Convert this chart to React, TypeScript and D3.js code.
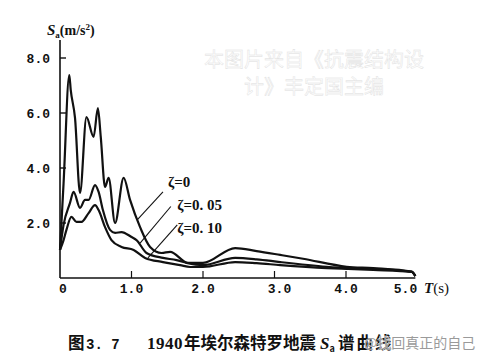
import * as d3 from "d3";
import { useEffect, useRef } from "react";

const W = 480;
const H = 364;

// period T (s) and spectral acceleration Sa (m/s²)
const T_Z0 = [0, 0.05, 0.13, 0.15, 0.21, 0.28, 0.37, 0.47, 0.53, 0.57, 0.63, 0.68, 0.77, 0.89, 0.98, 1.12, 1.26, 1.42, 1.54, 1.79, 2.0, 2.45, 2.75, 3.08, 3.4, 4.01, 4.38, 4.92, 4.97];
const S_Z0 = [1.02, 3.45, 7.38, 6.84, 5.82, 3.09, 5.85, 5.13, 6.18, 5.13, 3.31, 3.64, 2.0, 3.64, 2.84, 1.85, 1.13, 0.91, 0.95, 0.55, 0.55, 1.09, 0.98, 0.84, 0.7, 0.41, 0.36, 0.23, 0.07];

const T_Z05 = [0, 0.05, 0.14, 0.19, 0.28, 0.35, 0.4, 0.49, 0.54, 0.6, 0.7, 0.77, 0.86, 1.0, 1.07, 1.21, 1.44, 1.63, 1.77, 2.0, 2.45, 2.75, 3.08, 3.73, 4.01, 4.38, 4.92, 4.97];
const S_Z05 = [1.02, 1.93, 2.73, 3.13, 2.55, 2.84, 2.84, 3.38, 3.13, 2.47, 1.75, 1.64, 1.67, 1.49, 1.38, 0.91, 0.73, 0.65, 0.55, 0.47, 0.73, 0.68, 0.58, 0.41, 0.36, 0.33, 0.22, 0.07];

const T_Z10 = [0, 0.05, 0.09, 0.16, 0.23, 0.3, 0.4, 0.49, 0.54, 0.63, 0.72, 0.86, 1.03, 1.19, 1.44, 1.68, 1.82, 2.0, 2.45, 2.75, 3.08, 3.73, 4.01, 4.38, 4.92, 4.97];
const S_Z10 = [1.02, 1.38, 1.75, 2.22, 2.04, 2.04, 2.36, 2.65, 2.47, 1.85, 1.38, 1.13, 1.02, 0.73, 0.58, 0.47, 0.4, 0.4, 0.58, 0.54, 0.47, 0.36, 0.33, 0.29, 0.22, 0.07];

const Y_TICKS = [2, 4, 6, 8];
const X_TICKS = [0, 1, 2, 3, 4, 5];

const LABELS = ["ζ=0", "ζ=0. 05", "ζ=0. 10"];
// label anchor (T, Sa) and leader line [from, to] in data units
const LABEL_POS: [number, number][] = [[1.51, 3.49], [1.64, 2.65], [1.64, 1.82]];
const LEADERS: [number, number, number, number][] = [
  [1.44, 3.13, 1.08, 2.11],
  [1.55, 2.6, 1.12, 1.27],
  [1.64, 1.93, 1.23, 0.73],
];

const SERIES = [
  { t: T_Z0, s: S_Z0 },
  { t: T_Z05, s: S_Z05 },
  { t: T_Z10, s: S_Z10 },
];

export default function App() {
  const svgRef = useRef<SVGSVGElement>(null);

  useEffect(() => {
    const svg = d3.select(svgRef.current);
    svg.selectAll("*").remove();

    const x = d3.scaleLinear().domain([0, 4]).range([60, 346]);
    const y = d3.scaleLinear().domain([0, 8]).range([278, 58]);
    const ink = "#111";
    const mono = "'Liberation Mono', 'DejaVu Sans Mono', monospace";
    const serif = "'Liberation Serif', 'DejaVu Serif', serif";
    const cjk = "'Noto Sans CJK SC', sans-serif";

    svg.append("rect").attr("width", W).attr("height", H).attr("fill", "#fff");

    // watermark
    const wm = svg
      .append("g")
      .attr("font-family", cjk)
      .attr("font-size", 20)
      .attr("text-anchor", "middle")
      .attr("fill", "#fcfcfc")
      .attr("stroke", "#dedede")
      .attr("stroke-width", 0.4);
    wm.append("text").attr("x", 314).attr("y", 67).text("本图片来自《抗震结构设");
    wm.append("text").attr("x", 314).attr("y", 94).text("计》丰定国主编");

    // axes
    svg.append("line")
      .attr("x1", x(0)).attr("x2", x(0))
      .attr("y1", 40).attr("y2", y(0))
      .attr("stroke", ink).attr("stroke-width", 1.6);
    svg.append("line")
      .attr("x1", x(0)).attr("x2", x(4.97))
      .attr("y1", y(0)).attr("y2", y(0))
      .attr("stroke", ink).attr("stroke-width", 1.6);

    Y_TICKS.forEach((v) => {
      svg.append("line")
        .attr("x1", x(0)).attr("x2", x(0) + 6)
        .attr("y1", y(v)).attr("y2", y(v))
        .attr("stroke", ink).attr("stroke-width", 1.4);
      svg.append("text")
        .attr("x", 50).attr("y", y(v) + 4.5)
        .attr("text-anchor", "end")
        .attr("font-family", mono).attr("font-size", 13).attr("font-weight", "bold")
        .attr("fill", ink)
        .text(v.toFixed(1));
    });

    X_TICKS.forEach((v) => {
      if (v > 0 && v < 5) {
        svg.append("line")
          .attr("x1", x(v)).attr("x2", x(v))
          .attr("y1", y(0)).attr("y2", y(0) - 7)
          .attr("stroke", ink).attr("stroke-width", 1.2);
      }
      svg.append("text")
        .attr("x", v === 0 ? x(v) + 3 : v === 5 ? x(v) - 12 : x(v) + (v === 3 ? 5 : 0))
        .attr("y", 293)
        .attr("text-anchor", "middle")
        .attr("font-family", mono).attr("font-size", 13).attr("font-weight", "bold")
        .attr("fill", ink)
        .text(v === 0 ? "0" : v.toFixed(1));
    });

    const xl = svg.append("text")
      .attr("x", 424).attr("y", 293)
      .attr("font-family", serif).attr("font-size", 15).attr("fill", ink);
    xl.append("tspan").attr("font-style", "italic").attr("font-weight", "bold").text("T");
    xl.append("tspan").text("(s)");

    const yl = svg.append("text")
      .attr("x", 47).attr("y", 35)
      .attr("font-family", serif).attr("font-size", 14).attr("font-weight", "bold").attr("fill", ink);
    yl.append("tspan").attr("font-style", "italic").attr("font-size", 15).text("S");
    yl.append("tspan").attr("font-size", 9).attr("dy", 3).text("a");
    yl.append("tspan").attr("dy", -3).text("(m/s");
    yl.append("tspan").attr("font-size", 9).attr("dy", -5).text("2");
    yl.append("tspan").attr("dy", 5).text(")");

    // curves
    const gen = d3
      .line<[number, number]>()
      .x((d) => x(d[0]))
      .y((d) => y(d[1]))
      .curve(d3.curveMonotoneX);
    SERIES.forEach((ser) => {
      const pts = ser.t.map((t, i) => [t, ser.s[i]] as [number, number]);
      svg.append("path")
        .datum(pts)
        .attr("d", gen)
        .attr("fill", "none")
        .attr("stroke", ink)
        .attr("stroke-width", 2.2)
        .attr("stroke-linejoin", "round");
    });

    // legend labels & leader lines
    LEADERS.forEach((l) => {
      svg.append("line")
        .attr("x1", x(l[0])).attr("y1", y(l[1]))
        .attr("x2", x(l[2])).attr("y2", y(l[3]))
        .attr("stroke", ink).attr("stroke-width", 1.1);
    });
    LABELS.forEach((lab, i) => {
      svg.append("text")
        .attr("x", x(LABEL_POS[i][0])).attr("y", y(LABEL_POS[i][1]) + 5)
        .attr("font-family", serif).attr("font-size", 15).attr("font-weight", "bold")
        .attr("fill", ink)
        .style("white-space", "pre")
        .text(lab);
    });

    // caption
    const cap = svg.append("text")
      .attr("y", 349)
      .attr("font-family", cjk)
      .attr("font-size", 16.5).attr("font-weight", "bold").attr("fill", ink)
      .style("white-space", "pre");
    cap.append("tspan").attr("x", 68).text("图");
    cap.append("tspan").attr("x", 86).attr("font-family", mono).attr("font-size", 14).text("3. 7");
    cap.append("tspan").attr("x", 147).attr("font-family", serif).attr("font-size", 17).attr("letter-spacing", 0.5).text("1940");
    cap.append("tspan").attr("x", 184).text("年埃尔森特罗地震");
    cap.append("tspan").attr("x", 320).attr("font-family", serif).attr("font-style", "italic").attr("font-size", 17).text("S");
    cap.append("tspan").attr("font-size", 9).attr("dy", 3).text("a");
    cap.append("tspan").attr("x", 338).attr("dy", -3).attr("letter-spacing", 2).text("谱曲线");

    svg.append("text")
      .attr("x", 364).attr("y", 348)
      .attr("font-family", cjk)
      .attr("font-size", 14)
      .attr("fill", "#9a9a9a")
      .attr("stroke", "#fff").attr("stroke-width", 0.6)
      .attr("paint-order", "stroke")
      .text("@找回真正的自己");
  }, []);

  return (
    <svg
      ref={svgRef}
      width={W}
      height={H}
      style={{ position: "absolute", left: 0, top: 0, display: "block" }}
    />
  );
}
